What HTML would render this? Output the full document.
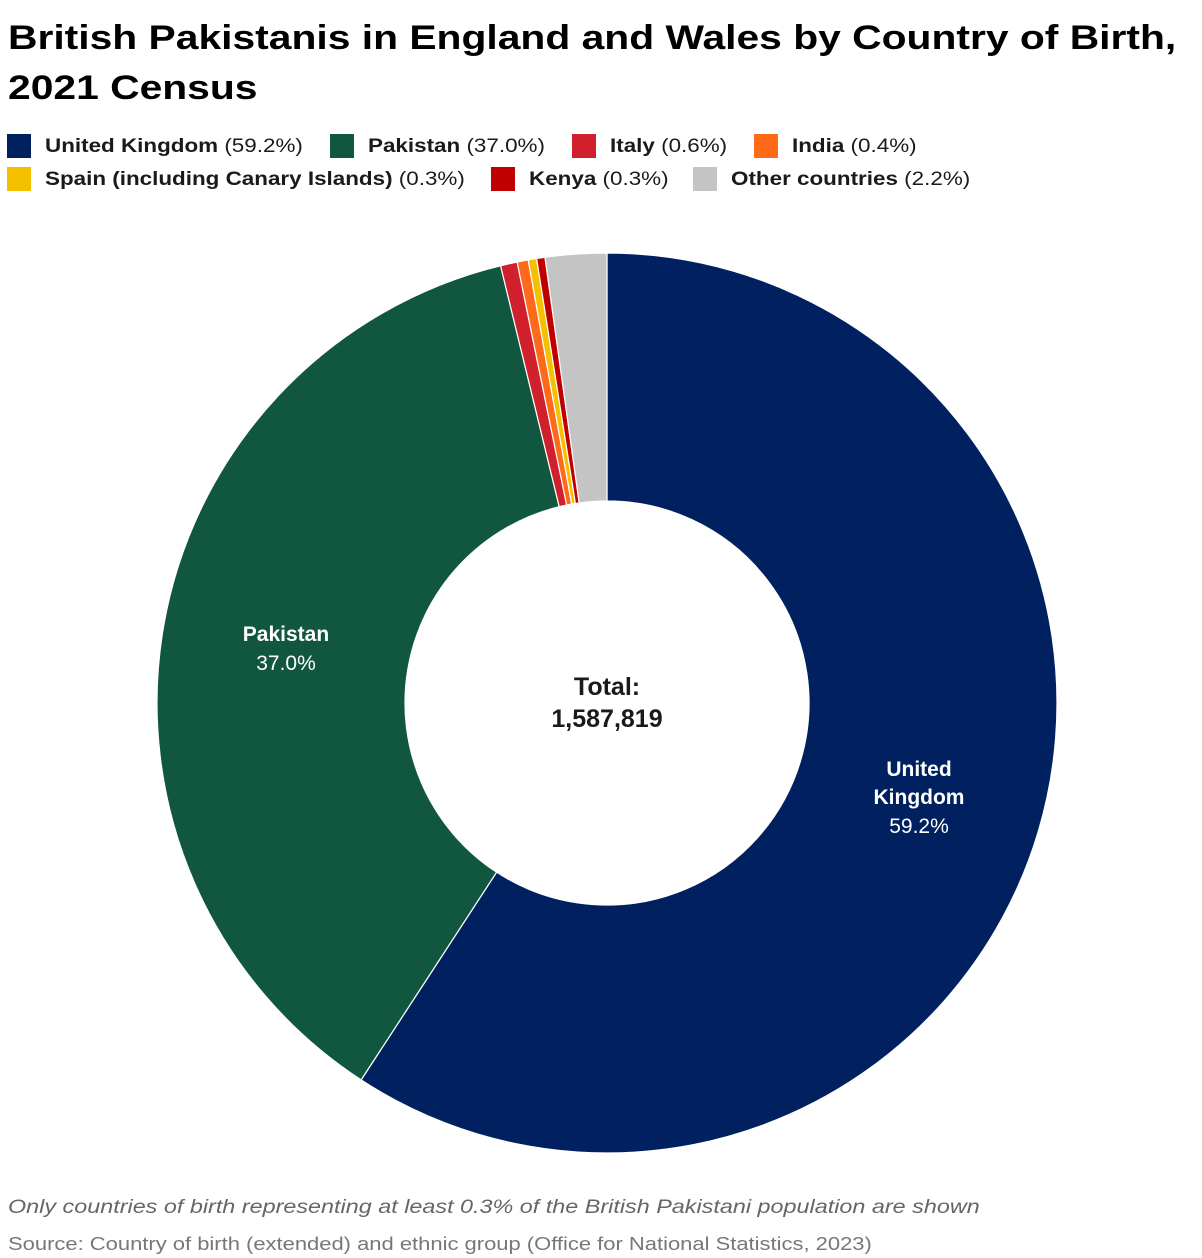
<!DOCTYPE html>
<html><head><meta charset="utf-8"><style>
body{margin:0;width:1202px;height:1258px;background:#fff;font-family:"Liberation Sans",Arial,sans-serif;color:#1a1a1a;position:relative;overflow:hidden}
.t{position:absolute;left:8px;font-weight:bold;font-size:34px;color:#000;white-space:nowrap;transform-origin:0 0;transform:scaleX(1.2)}
.li{position:absolute;font-size:19px;white-space:nowrap;line-height:24px;transform-origin:0 0;transform:scaleX(1.18)}
.li b{font-weight:bold}
.sq{position:absolute;width:24px;height:24px}
.f{position:absolute;left:8px;font-size:19px;color:#666;white-space:nowrap;transform-origin:0 0}
</style></head><body>
<div class="t" style="top:19px">British Pakistanis in England and Wales by Country of Birth,</div>
<div class="t" style="top:69px">2021 Census</div>

<div class="sq" style="left:7px;top:134px;background:#002060"></div><div class="li" style="left:45px;top:135px"><b>United Kingdom</b> (59.2%)</div>
<div class="sq" style="left:330px;top:134px;background:#115740"></div><div class="li" style="left:368px;top:135px"><b>Pakistan</b> (37.0%)</div>
<div class="sq" style="left:572px;top:134px;background:#d0202e"></div><div class="li" style="left:610px;top:135px"><b>Italy</b> (0.6%)</div>
<div class="sq" style="left:754px;top:134px;background:#ff6a1a"></div><div class="li" style="left:792px;top:135px"><b>India</b> (0.4%)</div>
<div class="sq" style="left:7px;top:167px;background:#f5c000"></div><div class="li" style="left:45px;top:168px"><b>Spain (including Canary Islands)</b> (0.3%)</div>
<div class="sq" style="left:491px;top:167px;background:#c00000"></div><div class="li" style="left:529px;top:168px"><b>Kenya</b> (0.3%)</div>
<div class="sq" style="left:693px;top:167px;background:#c4c4c4"></div><div class="li" style="left:731px;top:168px"><b>Other countries</b> (2.2%)</div>

<svg id="s" width="1202" height="1258" style="position:absolute;left:0;top:0"></svg>

<div class="f" style="top:1197px;font-style:italic;transform:scaleX(1.23)">Only countries of birth representing at least 0.3% of the British Pakistani population are shown</div>
<div class="f" style="top:1234px;font-size:18px;color:#777;transform:scaleX(1.22)">Source: Country of birth (extended) and ethnic group (Office for National Statistics, 2023)</div>
<script>
var cx=607,cy=703,R=450,r=202;
var d=[[59.2,"#002060"],[37.0,"#115740"],[0.6,"#d0202e"],[0.4,"#ff6a1a"],[0.3,"#f5c000"],[0.3,"#c00000"],[2.2,"#c4c4c4"]];
var a=0,h="";
function p(rad,ang){return (cx+rad*Math.sin(ang)).toFixed(2)+" "+(cy-rad*Math.cos(ang)).toFixed(2)}
d.forEach(function(x){var a0=a/100*2*Math.PI,a1=(a+x[0])/100*2*Math.PI;a+=x[0];var lg=(a1-a0)>Math.PI?1:0;
h+='<path d="M'+p(R,a0)+' A'+R+' '+R+' 0 '+lg+' 1 '+p(R,a1)+' L'+p(r,a1)+' A'+r+' '+r+' 0 '+lg+' 0 '+p(r,a0)+' Z" fill="'+x[1]+'" stroke="#fff" stroke-width="1.2"/>';});
h+='<g font-family="Liberation Sans,Arial,sans-serif" font-size="21" text-anchor="middle" fill="#fff">'+
'<text x="286" y="641" font-weight="bold">Pakistan</text><text x="286" y="670">37.0%</text>'+
'<text x="919" y="776" font-weight="bold">United</text><text x="919" y="804" font-weight="bold">Kingdom</text><text x="919" y="833">59.2%</text></g>'+
'<g font-family="Liberation Sans,Arial,sans-serif" font-size="25" font-weight="bold" text-anchor="middle" fill="#1a1a1a"><text x="607" y="695">Total:</text><text x="607" y="727">1,587,819</text></g>';
document.getElementById("s").innerHTML=h;
</script>
</body></html>
